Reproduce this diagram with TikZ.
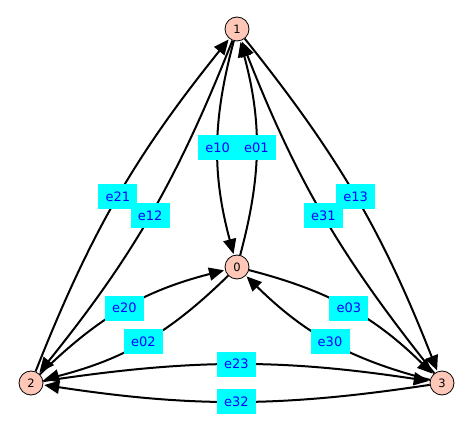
\documentclass[tikz,border=0pt]{standalone}
\usepackage{fontspec}
\setmainfont{DejaVu Sans}
\usetikzlibrary{arrows.meta}
\definecolor{vfill}{HTML}{FEC7B8}
\definecolor{lblfill}{RGB}{0,255,255}
\definecolor{lbltext}{RGB}{0,0,255}
\pgfdeclarelayer{edgelayer}
\pgfsetlayers{edgelayer,main}
\begin{document}
\begin{tikzpicture}[x=1pt,y=1pt,
  vertex/.style={circle,draw=black,line width=0.8pt,fill=vfill,minimum size=24pt,
    inner sep=0pt,font=\fontsize{11.5}{11.5}\selectfont},
  edge/.style={line width=2pt,-{Triangle[length=15pt,width=13pt]},shorten >=1pt},
  lbl/.style={fill=lblfill,text=lbltext,minimum width=39pt,minimum height=25pt,inner sep=0pt,
    font=\fontsize{13}{13}\selectfont,pos=0.5}]
\useasboundingbox (0,0) rectangle (473,439);

% vertices
\node[vertex] (n1) at (237,410) {1};
\node[vertex] (n0) at (237,172) {0};
\node[vertex] (n2) at (31,56) {2};
\node[vertex] (n3) at (442,56) {3};

% directed edges, each pair curving apart
\begin{pgfonlayer}{edgelayer}
\draw[edge] (n1) to[bend right=15] node[lbl]{e10} (n0);
\draw[edge] (n0) to[bend right=15] node[lbl]{e01} (n1);
\draw[edge] (n2) to[bend left=8.6] node[lbl]{e21} (n1);
\draw[edge] (n1) to[bend left=8.6] node[lbl]{e12} (n2);
\draw[edge] (n1) to[bend left=8.6] node[lbl]{e13} (n3);
\draw[edge] (n3) to[bend left=8.6] node[lbl]{e31} (n1);
\draw[edge] (n2) to[bend left=15] node[lbl]{e20} (n0);
\draw[edge] (n0) to[bend left=15] node[lbl]{e02} (n2);
\draw[edge] (n0) to[bend left=15] node[lbl]{e03} (n3);
\draw[edge] (n3) to[bend left=15] node[lbl]{e30} (n0);
\draw[edge] (n2) to[bend left=8.6] node[lbl]{e23} (n3);
\draw[edge] (n3) to[bend left=8.6] node[lbl]{e32} (n2);
\end{pgfonlayer}
\end{tikzpicture}
\end{document}
